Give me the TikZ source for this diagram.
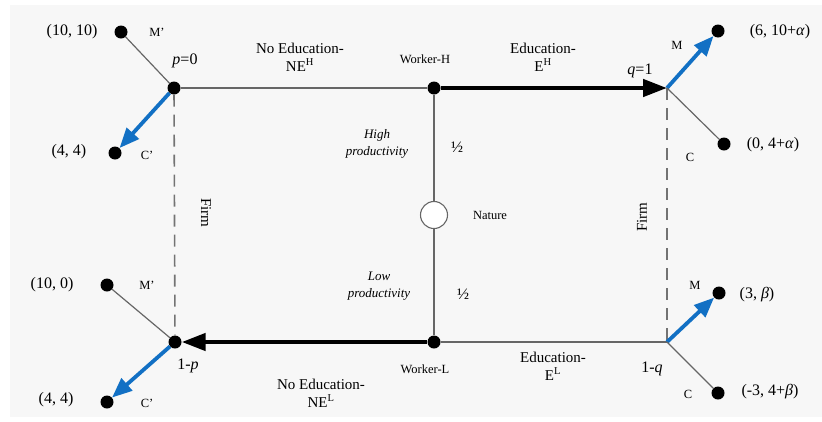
\documentclass[tikz,border=0pt]{standalone}
\usepackage{fontspec}
\setmainfont{Liberation Serif}
\usetikzlibrary{arrows.meta}

\definecolor{choiceblue}{RGB}{18,112,196}
\definecolor{bggray}{RGB}{247,247,247}

\tikzset{
  leaf/.style={circle,fill=black,inner sep=0pt,minimum size=13pt},
  chance/.style={circle,draw=black!60,fill=white,line width=1.1pt,inner sep=0pt,minimum size=27pt},
  branch/.style={draw=black!60,line width=1.2pt},
  move/.style={line width=4.5pt,-{Triangle[length=24pt,width=17pt]}},
  best/.style={choiceblue,line width=3.8pt,-{Triangle[length=20pt,width=16pt]}},
  infoset/.style={draw=black!55,line width=1.6pt,dash pattern=on 12pt off 8pt},
  pay/.style={font=\fontsize{16}{18}\selectfont},
  act/.style={font=\fontsize{15}{18}\selectfont,align=center},
  who/.style={font=\fontsize{12.5}{14}\selectfont},
  kind/.style={font=\fontsize{13}{17}\selectfont\itshape,align=center},
  tag/.style={font=\fontsize{12.5}{14}\selectfont}
}

\begin{document}
\begin{tikzpicture}[x=1pt,y=-1pt]

% background
\fill[bggray] (10,5) rectangle (822,417);
\useasboundingbox (0,0) rectangle (822,421);

% decision nodes
\node[chance] (nat) at (434,215) {};
\node[leaf] (wh) at (434,88) {};
\node[leaf] (wl) at (434,342) {};
\node[leaf] (fl) at (174,88) {};
\node[leaf] (bl) at (175,342) {};
\coordinate (fr) at (667,88);
\coordinate (br) at (667,342);

% end points
\node[leaf] (flm) at (121,32) {};
\node[leaf] (flc) at (115,153) {};
\node[leaf] (frm) at (718,31) {};
\node[leaf] (frc) at (724,144) {};
\node[leaf] (blm) at (107,285) {};
\node[leaf] (blc) at (107,402) {};
\node[leaf] (brm) at (719,293) {};
\node[leaf] (brc) at (718,393) {};

% draw the worker's moves
\draw[branch] (fl) -- (wh);
\draw[move] (wh) -- (fr);
\draw[branch] (wl) -- (br);
\draw[move] (wl) -- (bl);
\draw[branch] (nat) -- (wh);
\draw[branch] (nat) -- (wl);

% information sets of the firm
\draw[infoset] (fl) -- (bl);
\draw[infoset] (fr) -- (br);

% draw the firm's moves
\draw[branch] (fl) -- (flm);
\draw[best] (fl) -- (flc);
\draw[best] (fr) -- (frm);
\draw[branch] (fr) -- (frc);
\draw[branch] (bl) -- (blm);
\draw[best] (bl) -- (blc);
\draw[best] (br) -- (brm);
\draw[branch] (br) -- (brc);

% labels of the moves
\node[act] (neh) at (300,57) {No Education-\\NE\textsuperscript{H}};
\node[act] (eh) at (543,57) {Education-\\E\textsuperscript{H}};
\node[act] (nel) at (321,393) {No Education-\\NE\textsuperscript{L}};
\node[act] (el) at (553,366) {Education-\\E\textsuperscript{L}};
\node[who] (whl) at (425,59) {Worker-H};
\node[who] (wll) at (425,369) {Worker-L};
\node[who] (natl) at (490,215) {Nature};
\node[kind] (hip) at (377,144) {High\\productivity};
\node[kind] (lop) at (379,286) {Low\\productivity};
\node[pay] (hhalf) at (457,147) {½};
\node[pay] (lhalf) at (463,294) {½};
\node[act,rotate=-90] (firml) at (206,213) {Firm};
\node[act,rotate=90] (firmr) at (642,217) {Firm};

% beliefs
\node[pay] (pzero) at (185,61) {\textit{p}=0};
\node[pay] (qone) at (640,71) {\textit{q}=1};
\node[pay] (pone) at (188,366) {1-\textit{p}};
\node[pay] (qrest) at (652,369) {1-\textit{q}};

% payoffs
\node[pay] (flmp) at (72,32) {(10, 10)};
\node[pay] (flcp) at (69,152) {(4, 4)};
\node[pay] (frmp) at (780,32) {(6, 10+\textit{α})};
\node[pay] (frcp) at (773,145) {(0, 4+\textit{α})};
\node[pay] (blmp) at (52,285) {(10, 0)};
\node[pay] (blcp) at (56,400) {(4, 4)};
\node[pay] (brmp) at (757,295) {(3, \textit{β})};
\node[pay] (brcp) at (770,392) {(-3, 4+\textit{β})};

% firm's choices
\node[tag] (flmt) at (157,32) {M'};
\node[tag] (flct) at (147,155) {C'};
\node[tag] (frmt) at (677,45) {M};
\node[tag] (frct) at (690,157) {C};
\node[tag] (blmt) at (147,285) {M'};
\node[tag] (blct) at (147,403) {C'};
\node[tag] (brmt) at (695,285) {M};
\node[tag] (brct) at (688,394) {C};

\end{tikzpicture}
\end{document}
